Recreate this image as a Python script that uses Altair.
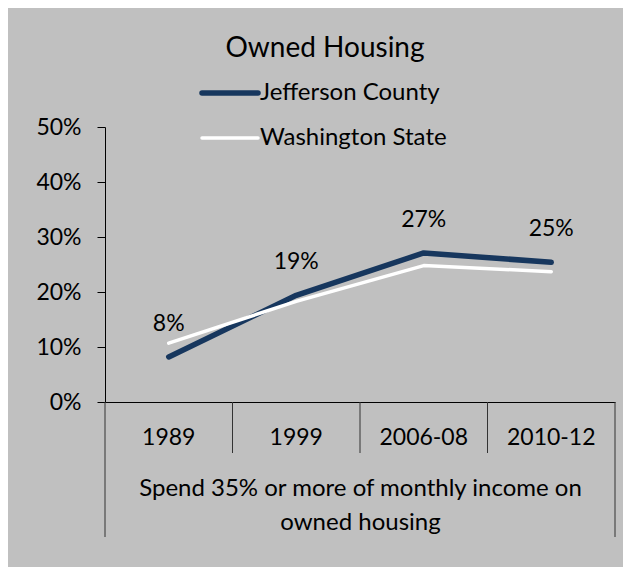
import altair as alt
import pandas as pd

# ---- data ----
categories = ["1989", "1999", "2006-08", "2010-12"]
series = ["Jefferson County", "Washington State"]
jefferson = [0.082, 0.194, 0.271, 0.254]
washington = [0.107, 0.183, 0.248, 0.237]
y_ticks = [0, 0.1, 0.2, 0.3, 0.4, 0.5]
group_label = ["Spend 35% or more of monthly income on", "owned housing"]
title_text = "Owned Housing"

# ---- styles ----
colors = ["#17375E", "#FFFFFF"]
widths = [5.5, 3.5]
BG = "#C0C0C0"
FONT = "Lato"
FS = 23
W, H = 510, 275

df = pd.DataFrame({
    "category": categories * 2,
    "series": [series[0]] * len(categories) + [series[1]] * len(categories),
    "value": jefferson + washington,
})
legend_df = pd.DataFrame({"series": series})
cat_df = pd.DataFrame({"category": categories})

x_scale = alt.Scale(domain=categories, paddingInner=0, paddingOuter=0)
y_scale = alt.Scale(domain=[0, 0.5], nice=False)
color_scale = alt.Scale(domain=series, range=colors)
width_scale = alt.Scale(domain=series, range=widths)

x_axis = alt.Axis(
    title=group_label, labelFontSize=FS, labelPadding=35, labelBaseline="middle",
    labelAngle=0, ticks=False, tickSize=0, domainColor="black", domainWidth=1,
    labelColor="black", titleFontSize=24, titleFontWeight="normal",
    titleColor="black", titleLineHeight=34, titleBaseline="alphabetic", titleY=93,
)
y_axis = alt.Axis(
    values=y_ticks, format=".0%", tickSize=8, labelPadding=16, labelFontSize=FS,
    labelColor="black", domainColor="black", tickColor="black", grid=False,
    title=None,
)

X = alt.X("category:N", scale=x_scale, axis=x_axis)
Y = alt.Y("value:Q", scale=y_scale, axis=y_axis)
C = alt.Color("series:N", scale=color_scale, legend=None)
SW = alt.StrokeWidth("series:N", scale=width_scale, legend=None)

layers = []

# category dividers below the axis
layers.append(
    alt.Chart(cat_df).transform_filter(alt.datum.category != categories[0])
    .mark_rule(color="#333333", strokeWidth=1)
    .encode(x=alt.X("category:N", scale=x_scale, axis=x_axis, bandPosition=0),
            y=alt.value(H), y2=alt.value(H + 51))
)
layers.append(
    alt.Chart(cat_df).transform_filter(alt.datum.category == categories[0])
    .mark_rule(color="#333333", strokeWidth=1)
    .encode(x=alt.X("category:N", scale=x_scale, axis=x_axis, bandPosition=0),
            y=alt.value(H), y2=alt.value(H + 135))
)
layers.append(
    alt.Chart(cat_df).transform_filter(alt.datum.category == categories[-1])
    .mark_rule(color="#333333", strokeWidth=1)
    .encode(x=alt.X("category:N", scale=x_scale, axis=x_axis, bandPosition=1),
            y=alt.value(H), y2=alt.value(H + 135))
)

# series lines (Washington drawn on top)
for s in series:
    layers.append(
        alt.Chart(df).transform_filter(alt.datum.series == s)
        .mark_line(strokeCap="round", strokeJoin="round")
        .encode(x=X, y=Y, color=C, strokeWidth=SW)
    )

# data labels for Jefferson County
layers.append(
    alt.Chart(df).transform_filter(alt.datum.series == series[0])
    .mark_text(dy=-33, fontSize=FS, font=FONT, color="black", baseline="middle")
    .encode(x=X, y=Y, text=alt.Text("value:Q", format=".0%"))
)

# manual legend
LEG_Y = [-34, 11]
for i, s in enumerate(series):
    sub = alt.Chart(legend_df).transform_filter(alt.datum.series == s)
    layers.append(
        sub.mark_rule(strokeCap="round")
        .encode(x=alt.value(97), x2=alt.value(153), y=alt.value(LEG_Y[i]),
                color=C, strokeWidth=SW)
    )
    layers.append(
        sub.mark_text(align="left", baseline="middle", fontSize=24, font=FONT,
                      color="black")
        .encode(x=alt.value(155), y=alt.value(LEG_Y[i]), text="series:N")
    )

chart = (
    alt.layer(*layers)
    .properties(
        width=W, height=H,
        title=alt.TitleParams(title_text, fontSize=28, font=FONT,
                              fontWeight="normal", color="black",
                              anchor="middle", baseline="alphabetic", offset=24,
                              dx=-35, dy=28),
        background=BG,
        padding={"left": 97, "top": 119, "right": 8, "bottom": 165},
        autosize=alt.AutoSizeParams(type="none"),
    )
    .configure(font=FONT)
    .configure_view(stroke=None)
)

chart.save("out.html", embed_options={"renderer": "svg", "actions": False})
